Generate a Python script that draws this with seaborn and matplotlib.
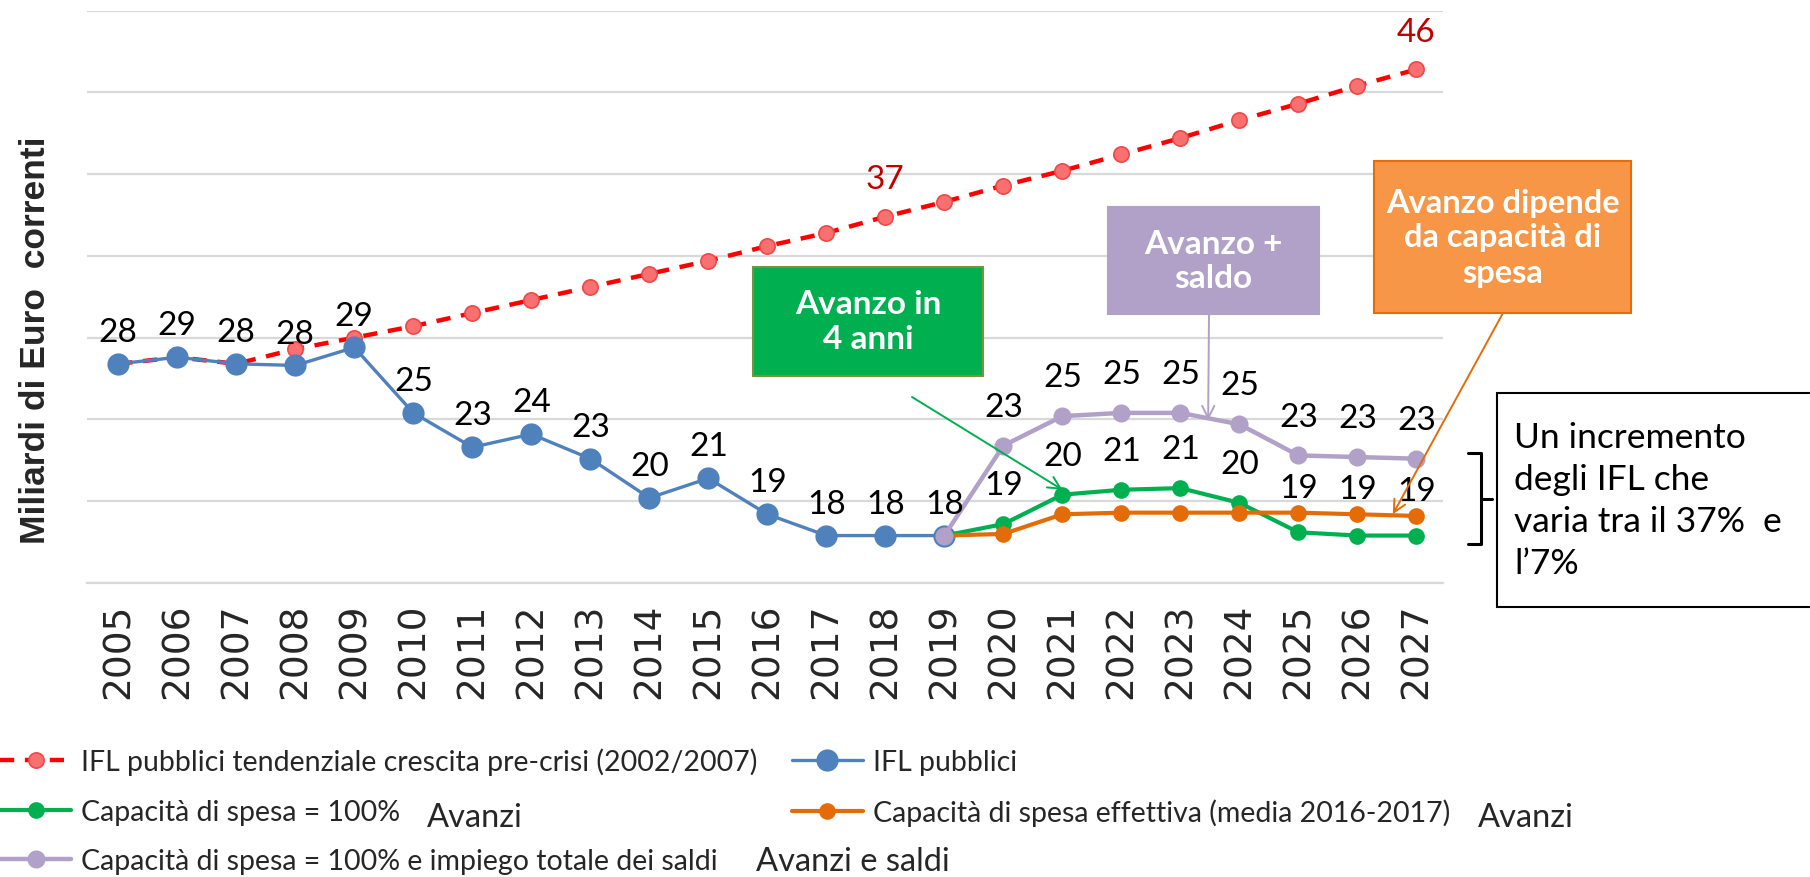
import matplotlib

matplotlib.use("Agg")
import matplotlib.pyplot as plt
import pandas as pd
import seaborn as sns
from matplotlib.lines import Line2D
from matplotlib.patches import Rectangle

W, H = 1810, 878

years = list(range(2005, 2028))
years_hist = list(range(2005, 2020))
years_scen = list(range(2019, 2028))

# IFL pubblici, tendenza pre-crisi (2002/2007)
ifl_trend = [28.4, 28.8, 28.4, 29.3, 30.0, 30.7, 31.5, 32.3, 33.1, 33.9, 34.7, 35.6,
             36.4, 37.4, 38.3, 39.3, 40.2, 41.2, 42.2, 43.3, 44.3, 45.4, 46.4]
# IFL pubblici osservati
ifl_pubblici = [28.4, 28.8, 28.4, 28.3, 29.4, 25.4, 23.3, 24.1, 22.6, 20.2, 21.4, 19.2,
                17.9, 17.9, 17.9]
# scenari 2019-2027
cap_100 = [17.9, 18.6, 20.4, 20.7, 20.8, 19.9, 18.1, 17.9, 17.9]
cap_effettiva = [17.9, 18.0, 19.2, 19.3, 19.3, 19.3, 19.3, 19.2, 19.1]
cap_100_saldi = [17.9, 23.4, 25.2, 25.4, 25.4, 24.7, 22.8, 22.7, 22.6]

labels = [
    "IFL pubblici tendenziale crescita pre-crisi (2002/2007)",
    "IFL pubblici",
    "Capacità di spesa = 100%",
    "Capacità di spesa effettiva (media 2016-2017)",
    "Capacità di spesa = 100% e impiego totale dei saldi",
]

RED = "#ff0000"
BLUE = "#4f81bd"
GREEN = "#00b050"
ORANGE = "#e36c09"
LILAC = "#b1a0c7"

LABEL_FONT = ["Lato", "DejaVu Sans"]


def fx(x):
    return x / W


def fy(y):
    return 1 - y / H


sns.set_theme(style="white")
plt.rcParams["font.family"] = LABEL_FONT

fig = plt.figure(figsize=(W / 100, H / 100), dpi=100)
ax = fig.add_axes([fx(87), fy(584), fx(1443) - fx(87), fy(11.5) - fy(584)])

sns.lineplot(x=years, y=ifl_trend, ax=ax, color=RED, linewidth=3.2, linestyle="--",
             marker="o", markersize=11, markerfacecolor="#f87070",
             markeredgecolor="#f04848", markeredgewidth=1.2, label=labels[0], zorder=2)
ax.lines[-1].set_dashes((3.2, 2.4))
sns.lineplot(x=years_hist, y=ifl_pubblici, ax=ax, color=BLUE, linewidth=2.4,
             marker="o", markersize=16, markeredgewidth=0, label=labels[1], zorder=3)
sns.lineplot(x=years_scen, y=cap_100, ax=ax, color=GREEN, linewidth=3,
             marker="o", markersize=12, markeredgewidth=0, label=labels[2], zorder=4)
sns.lineplot(x=years_scen, y=cap_effettiva, ax=ax, color=ORANGE, linewidth=3,
             marker="o", markersize=12, markeredgewidth=0, label=labels[3], zorder=5)
sns.lineplot(x=years_scen, y=cap_100_saldi, ax=ax, color=LILAC, linewidth=3.2,
             marker="o", markersize=13, markeredgewidth=0, label=labels[4], zorder=6)


def put_labels(xs, vs, which, dy, color="black"):
    for x, v in zip(xs, vs):
        if x in which:
            ax.annotate(f"{v:.0f}", (x, v), xytext=(0, dy), textcoords="offset points",
                        ha="center", va="center", fontsize=24, color=color, zorder=10)


put_labels(years_hist, ifl_pubblici, years_hist, 23)
put_labels(years, ifl_trend, [2018, 2027], 27, color="#c00000")
put_labels(years_scen, cap_100, [2020, 2021, 2022, 2023, 2024], 28)
put_labels(years_scen, cap_effettiva, [2025, 2026, 2027], 18)
put_labels(years_scen, cap_100_saldi, years_scen[1:], 28)

ax.set_xlim(2004.47, 2027.45)
ax.set_ylim(15, 50)
ax.set_yticks(range(15, 51, 5))
ax.set_yticklabels([])
ax.set_xticks(years)
ax.set_xticklabels([str(y) for y in years], rotation=90, fontsize=27,
                   family="DejaVu Sans")
ax.tick_params(axis="x", length=0, pad=14)
ax.tick_params(axis="y", length=0)
ax.yaxis.grid(True, color="#d9d9d9", linewidth=1.6)
ax.set_axisbelow(True)
for side in ["left", "right", "top"]:
    ax.spines[side].set_visible(False)
ax.spines["bottom"].set_color("#d9d9d9")
ax.spines["bottom"].set_linewidth(1.6)
ax.set_xlabel("")
ax.set_ylabel("")

fig.text(fx(36), fy(340), "Miliardi di Euro  correnti", rotation=90, ha="center",
         va="center", fontsize=25.5, fontweight="bold", family="Liberation Sans")

# legenda: due colonne, riempite per righe
handles, leg_labels = ax.get_legend_handles_labels()
ax.legend_.remove()
order = [0, 2, 4, 1, 3]
fig.legend([handles[i] for i in order], [leg_labels[i] for i in order],
           loc="upper left", bbox_to_anchor=(fx(0), fy(748)),
           ncol=2, frameon=False, fontsize=20.5, handlelength=2.5, handletextpad=0.35,
           columnspacing=1.2, labelspacing=0.84, borderpad=0, borderaxespad=0)
fig.text(fx(427), fy(818), "Avanzi", ha="left", va="center", fontsize=23.5)
fig.text(fx(1478), fy(818), "Avanzi", ha="left", va="center", fontsize=23.5)
fig.text(fx(756), fy(862), "Avanzi e saldi", ha="left", va="center", fontsize=23.5)


def box(x0, y0, x1, y1, face, edge, text, color="white", weight="bold", size=22,
        ha="center", tx=None, spacing=1.25):
    fig.patches.append(Rectangle((fx(x0), fy(y1)), fx(x1) - fx(x0), fy(y0) - fy(y1),
                                 transform=fig.transFigure, facecolor=face,
                                 edgecolor=edge, linewidth=1.5, zorder=20))
    px = (x0 + x1) / 2 if tx is None else tx
    fig.text(fx(px), fy((y0 + y1) / 2), text, ha=ha, va="center", color=color,
             fontsize=size, fontweight=weight, linespacing=spacing, zorder=21)


box(753, 268, 983, 377, GREEN, "#77933c", "Avanzo in\n4 anni", size=24)
box(1108, 208, 1319, 315, LILAC, LILAC, "Avanzo +\nsaldo", size=24)
box(1374, 162, 1631, 314, "#f79646", "#e46c0a", "Avanzo dipende\nda capacità di\nspesa",
    size=23.5)
box(1497, 394, 1812, 608, "white", "black",
    "Un incremento\ndegli IFL che\nvaria tra il 37%  e\nl\u20197%",
    color="black", weight="normal", size=25.5, ha="left", tx=1514, spacing=1.38)


def arrow(xy, tail, color):
    ax.annotate("", xy=xy, xycoords="data", xytext=(fx(tail[0]), fy(tail[1])),
                textcoords="figure fraction",
                arrowprops=dict(arrowstyle="->", color=color, lw=1.4,
                                mutation_scale=22, shrinkA=0, shrinkB=0), zorder=12)


arrow((2021.0, 20.7), (912, 398), GREEN)
arrow((2023.47, 24.95), (1209, 315), LILAC)
arrow((2026.6, 19.2), (1503, 314), ORANGE)

# parentesi graffa
brace_x = [fx(1468), fx(1481), fx(1481), fx(1468)]
brace_y = [fy(454), fy(454), fy(545), fy(545)]
fig.lines.append(Line2D(brace_x, brace_y, transform=fig.transFigure, color="black", lw=2.2))
fig.lines.append(Line2D([fx(1481), fx(1492)], [fy(500), fy(500)],
                        transform=fig.transFigure, color="black", lw=2.2))

fig.savefig("out.png", dpi=100)
